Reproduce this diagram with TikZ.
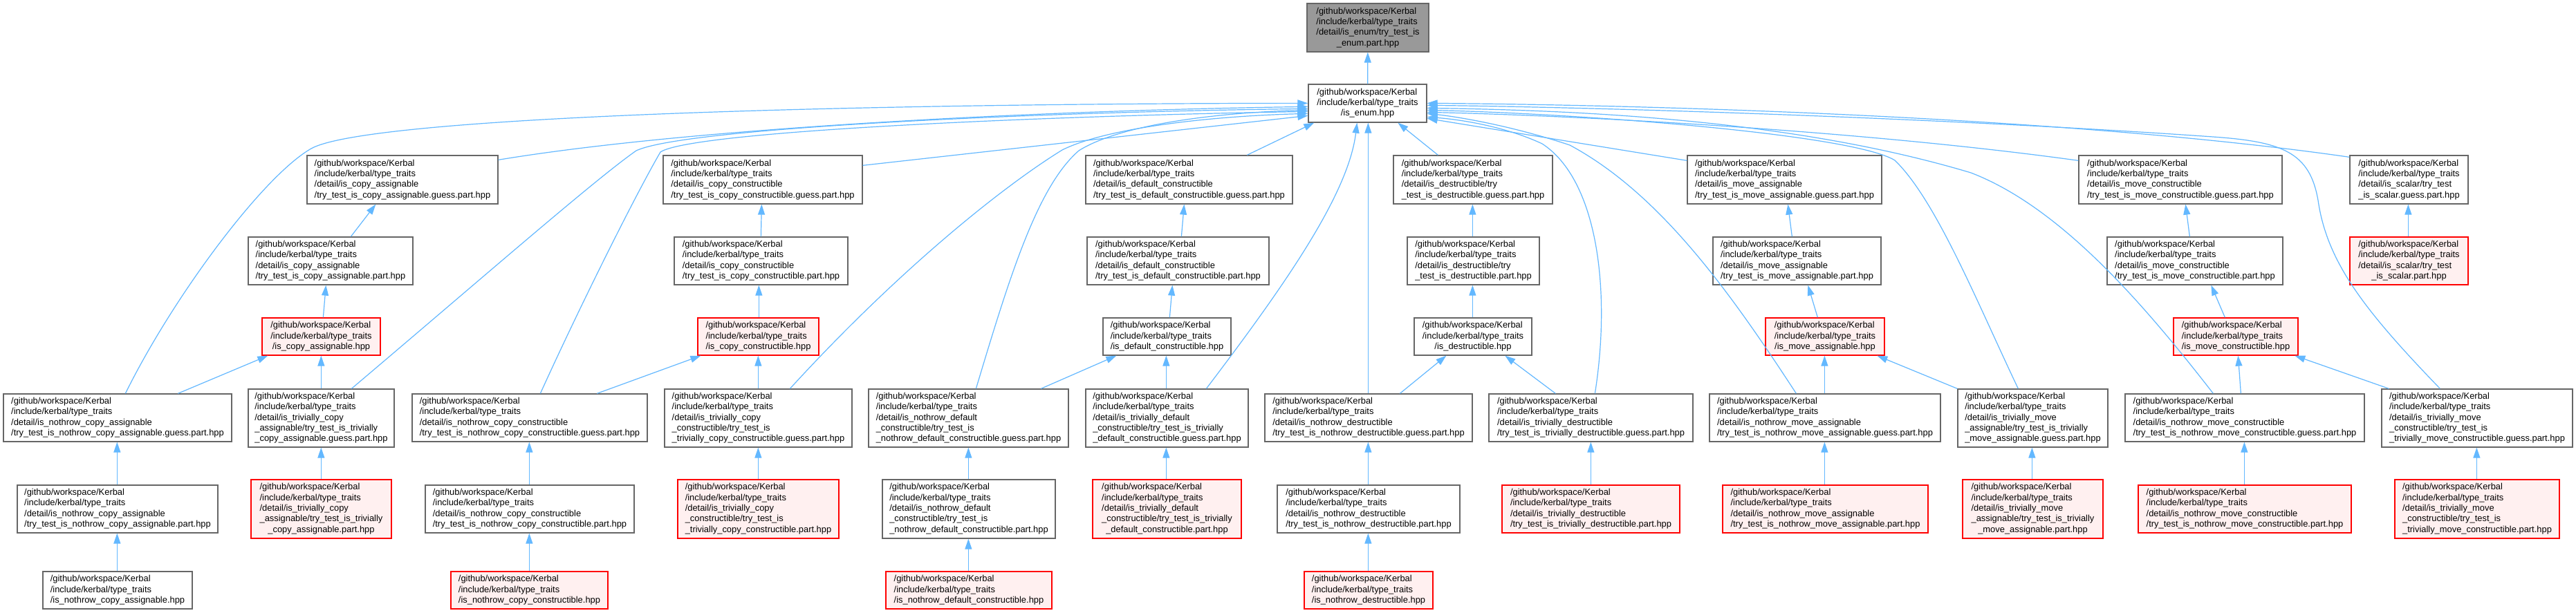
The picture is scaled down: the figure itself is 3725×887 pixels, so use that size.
\documentclass[tikz,border=0pt]{standalone}
\usepackage{fontspec}
\setmainfont{Liberation Sans}
\usetikzlibrary{arrows.meta,calc}
\definecolor{edgec}{HTML}{63B8FF}
\definecolor{gborder}{HTML}{666666}
\definecolor{redfill}{HTML}{FFF0F0}
\definecolor{topfill}{HTML}{999999}
\newcommand{\gpre}{/github/workspace/Kerbal\\/include/kerbal/type\_traits}
\newcommand{\glab}[2]{\begin{tabular}{@{}l@{}}\gpre\\#1\multicolumn{1}{@{}c@{}}{#2}\end{tabular}}
\newcommand{\gbox}[7]{\node[#2, minimum width={(#4-#3)*0.5pt}, minimum height={(#6-#5)*0.5pt}] (#1) at ({(#3+#4)/2},{(#5+#6)/2}) {#7};}
\begin{document}
\begin{tikzpicture}[x=0.5pt,y=-0.5pt,
  box/.style={rectangle, draw=gborder, fill=white, line width=0.65pt, inner sep=0pt, font={\fontsize{6.45}{7.65}\selectfont}},
  redbox/.style={box, draw=red, fill=redfill},
  topbox/.style={box, fill=topfill},
  incl/.style={draw=edgec, line width=0.6pt, -{Triangle[length=7.5pt,width=5pt]}, fill=none}]
\useasboundingbox (0,0) rectangle (3725,887);
\fill[white] (0,0) rectangle (3725,887);
% row 0-1
\gbox{top}{topbox}{1890}{2066}{5}{75}{\glab{/detail/is\_enum/try\_test\_is\\}{\_enum.part.hpp}}
\gbox{enum}{box}{1892}{2063}{122}{177}{\glab{}{/is\_enum.hpp}}
% row 2
\gbox{cag}{box}{444}{720}{225}{295}{\glab{/detail/is\_copy\_assignable\\}{/try\_test\_is\_copy\_assignable.guess.part.hpp}}
\gbox{ccg}{box}{959}{1247}{225}{295}{\glab{/detail/is\_copy\_constructible\\}{/try\_test\_is\_copy\_constructible.guess.part.hpp}}
\gbox{dcg}{box}{1570}{1869}{225}{295}{\glab{/detail/is\_default\_constructible\\}{/try\_test\_is\_default\_constructible.guess.part.hpp}}
\gbox{dg}{box}{2015}{2245}{225}{295}{\glab{/detail/is\_destructible/try\\}{\_test\_is\_destructible.guess.part.hpp}}
\gbox{mag}{box}{2440}{2721}{225}{295}{\glab{/detail/is\_move\_assignable\\}{/try\_test\_is\_move\_assignable.guess.part.hpp}}
\gbox{mcg}{box}{3006}{3300}{225}{295}{\glab{/detail/is\_move\_constructible\\}{/try\_test\_is\_move\_constructible.guess.part.hpp}}
\gbox{sg}{box}{3398}{3569}{225}{295}{\glab{/detail/is\_scalar/try\_test\\}{\_is\_scalar.guess.part.hpp}}
% row 3
\gbox{cap}{box}{359}{597}{343}{412}{\glab{/detail/is\_copy\_assignable\\}{/try\_test\_is\_copy\_assignable.part.hpp}}
\gbox{ccp}{box}{975}{1226}{343}{412}{\glab{/detail/is\_copy\_constructible\\}{/try\_test\_is\_copy\_constructible.part.hpp}}
\gbox{dcp}{box}{1572}{1835}{343}{412}{\glab{/detail/is\_default\_constructible\\}{/try\_test\_is\_default\_constructible.part.hpp}}
\gbox{dp}{box}{2035}{2226}{343}{412}{\glab{/detail/is\_destructible/try\\}{\_test\_is\_destructible.part.hpp}}
\gbox{map}{box}{2477}{2720}{343}{412}{\glab{/detail/is\_move\_assignable\\}{/try\_test\_is\_move\_assignable.part.hpp}}
\gbox{mcp}{box}{3047}{3301}{343}{412}{\glab{/detail/is\_move\_constructible\\}{/try\_test\_is\_move\_constructible.part.hpp}}
\gbox{sp}{redbox}{3398}{3569}{343}{412}{\glab{/detail/is\_scalar/try\_test\\}{\_is\_scalar.part.hpp}}
% row 4
\gbox{cah}{redbox}{379}{550}{460}{514}{\glab{}{/is\_copy\_assignable.hpp}}
\gbox{cch}{redbox}{1009}{1184}{460}{514}{\glab{}{/is\_copy\_constructible.hpp}}
\gbox{dch}{box}{1595}{1780}{460}{514}{\glab{}{/is\_default\_constructible.hpp}}
\gbox{dh}{box}{2045}{2215}{460}{514}{\glab{}{/is\_destructible.hpp}}
\gbox{mah}{redbox}{2553}{2725}{460}{514}{\glab{}{/is\_move\_assignable.hpp}}
\gbox{mch}{redbox}{3143}{3323}{460}{514}{\glab{}{/is\_move\_constructible.hpp}}
% row 5
\gbox{ncag}{box}{5}{335}{570}{639}{\glab{/detail/is\_nothrow\_copy\_assignable\\}{/try\_test\_is\_nothrow\_copy\_assignable.guess.part.hpp}}
\gbox{tcag}{box}{359}{570}{563}{647}{\glab{/detail/is\_trivially\_copy\\\_assignable/try\_test\_is\_trivially\\}{\_copy\_assignable.guess.part.hpp}}
\gbox{nccg}{box}{596}{936}{570}{639}{\glab{/detail/is\_nothrow\_copy\_constructible\\}{/try\_test\_is\_nothrow\_copy\_constructible.guess.part.hpp}}
\gbox{tccg}{box}{961}{1232}{563}{647}{\glab{/detail/is\_trivially\_copy\\\_constructible/try\_test\_is\\}{\_trivially\_copy\_constructible.guess.part.hpp}}
\gbox{ndcg}{box}{1256}{1545}{563}{647}{\glab{/detail/is\_nothrow\_default\\\_constructible/try\_test\_is\\}{\_nothrow\_default\_constructible.guess.part.hpp}}
\gbox{tdcg}{box}{1570}{1805}{563}{647}{\glab{/detail/is\_trivially\_default\\\_constructible/try\_test\_is\_trivially\\}{\_default\_constructible.guess.part.hpp}}
\gbox{ndg}{box}{1829}{2129}{570}{639}{\glab{/detail/is\_nothrow\_destructible\\}{/try\_test\_is\_nothrow\_destructible.guess.part.hpp}}
\gbox{tdg}{box}{2153}{2448}{570}{639}{\glab{/detail/is\_trivially\_destructible\\}{/try\_test\_is\_trivially\_destructible.guess.part.hpp}}
\gbox{nmag}{box}{2472}{2806}{570}{639}{\glab{/detail/is\_nothrow\_move\_assignable\\}{/try\_test\_is\_nothrow\_move\_assignable.guess.part.hpp}}
\gbox{tmag}{box}{2831}{3048}{563}{647}{\glab{/detail/is\_trivially\_move\\\_assignable/try\_test\_is\_trivially\\}{\_move\_assignable.guess.part.hpp}}
\gbox{nmcg}{box}{3073}{3419}{570}{639}{\glab{/detail/is\_nothrow\_move\_constructible\\}{/try\_test\_is\_nothrow\_move\_constructible.guess.part.hpp}}
\gbox{tmcg}{box}{3444}{3720}{563}{647}{\glab{/detail/is\_trivially\_move\\\_constructible/try\_test\_is\\}{\_trivially\_move\_constructible.guess.part.hpp}}
% row 6
\gbox{ncap}{box}{25}{315}{702}{771}{\glab{/detail/is\_nothrow\_copy\_assignable\\}{/try\_test\_is\_nothrow\_copy\_assignable.part.hpp}}
\gbox{tcap}{redbox}{363}{566}{694}{779}{\glab{/detail/is\_trivially\_copy\\\_assignable/try\_test\_is\_trivially\\}{\_copy\_assignable.part.hpp}}
\gbox{nccp}{box}{615}{917}{702}{771}{\glab{/detail/is\_nothrow\_copy\_constructible\\}{/try\_test\_is\_nothrow\_copy\_constructible.part.hpp}}
\gbox{tccp}{redbox}{980}{1213}{694}{779}{\glab{/detail/is\_trivially\_copy\\\_constructible/try\_test\_is\\}{\_trivially\_copy\_constructible.part.hpp}}
\gbox{ndcp}{box}{1276}{1526}{694}{779}{\glab{/detail/is\_nothrow\_default\\\_constructible/try\_test\_is\\}{\_nothrow\_default\_constructible.part.hpp}}
\gbox{tdcp}{redbox}{1580}{1795}{694}{779}{\glab{/detail/is\_trivially\_default\\\_constructible/try\_test\_is\_trivially\\}{\_default\_constructible.part.hpp}}
\gbox{ndp}{box}{1847}{2111}{702}{771}{\glab{/detail/is\_nothrow\_destructible\\}{/try\_test\_is\_nothrow\_destructible.part.hpp}}
\gbox{tdp}{redbox}{2172}{2429}{702}{771}{\glab{/detail/is\_trivially\_destructible\\}{/try\_test\_is\_trivially\_destructible.part.hpp}}
\gbox{nmap}{redbox}{2491}{2788}{702}{771}{\glab{/detail/is\_nothrow\_move\_assignable\\}{/try\_test\_is\_nothrow\_move\_assignable.part.hpp}}
\gbox{tmap}{redbox}{2838}{3041}{694}{779}{\glab{/detail/is\_trivially\_move\\\_assignable/try\_test\_is\_trivially\\}{\_move\_assignable.part.hpp}}
\gbox{nmcp}{redbox}{3092}{3400}{702}{771}{\glab{/detail/is\_nothrow\_move\_constructible\\}{/try\_test\_is\_nothrow\_move\_constructible.part.hpp}}
\gbox{tmcp}{redbox}{3463}{3701}{694}{779}{\glab{/detail/is\_trivially\_move\\\_constructible/try\_test\_is\\}{\_trivially\_move\_constructible.part.hpp}}
% row 7
\gbox{ncah}{box}{62}{278}{827}{881}{\glab{}{/is\_nothrow\_copy\_assignable.hpp}}
\gbox{ncch}{redbox}{652}{879}{827}{881}{\glab{}{/is\_nothrow\_copy\_constructible.hpp}}
\gbox{ndch}{redbox}{1281}{1521}{827}{881}{\glab{}{/is\_nothrow\_default\_constructible.hpp}}
\gbox{ndh}{redbox}{1886}{2072}{827}{881}{\glab{}{/is\_nothrow\_destructible.hpp}}
% chain edges
\draw[incl] (enum) -- (top);
\draw[incl] ($(cap.north west)+(149,0)$) -- ($(cag.south west)+(100,0)$);
\draw[incl] ($(cah.north west)+(89,0)$) -- ($(cap.south west)+(113,0)$);
\draw[incl] ($(ncag.north west)+(253,0)$) -- ($(cah.south west)+(9,0)$);
\draw[incl] ($(tcag.north west)+(106,0)$) -- ($(cah.south west)+(86,0)$);
\draw[incl] ($(ncap.north west)+(145,0)$) -- ($(ncag.south west)+(165,0)$);
\draw[incl] ($(tcap.north west)+(102,0)$) -- ($(tcag.south west)+(106,0)$);
\draw[incl] ($(ncah.north west)+(108,0)$) -- ($(ncap.south west)+(145,0)$);
\draw[incl] ($(nccp.north west)+(151,0)$) -- ($(nccg.south west)+(170,0)$);
\draw[incl] ($(ncch.north west)+(114,0)$) -- ($(nccp.south west)+(151,0)$);
\draw[incl] ($(nccg.north west)+(268,0)$) -- ($(cch.south west)+(5,0)$);
\draw[incl] ($(tccg.north west)+(136,0)$) -- ($(cch.south west)+(88,0)$);
\draw[incl] ($(ccp.north west)+(126,0)$) -- ($(ccg.south west)+(143,0)$);
\draw[incl] ($(cch.north west)+(89,0)$) -- ($(ccp.south west)+(123,0)$);
\draw[incl] ($(dcp.north west)+(137,0)$) -- ($(dcg.south west)+(143,0)$);
\draw[incl] ($(dch.north west)+(97,0)$) -- ($(dcp.south west)+(124,0)$);
\draw[incl] ($(ndcg.north west)+(250,0)$) -- ($(dch.south west)+(20,0)$);
\draw[incl] ($(tdcg.north west)+(117,0)$) -- ($(dch.south west)+(92,0)$);
\draw[incl] ($(tccp.north west)+(117,0)$) -- ($(tccg.south west)+(136,0)$);
\draw[incl] ($(ndcp.north west)+(125,0)$) -- ($(ndcg.south west)+(145,0)$);
\draw[incl] ($(ndch.north west)+(120,0)$) -- ($(ndcp.south west)+(125,0)$);
\draw[incl] ($(tdcp.north west)+(107,0)$) -- ($(tdcg.south west)+(117,0)$);
\draw[incl] ($(dp.north west)+(95,0)$) -- ($(dg.south west)+(115,0)$);
\draw[incl] ($(dh.north west)+(85,0)$) -- ($(dp.south west)+(95,0)$);
\draw[incl] ($(ndg.north west)+(196,0)$) -- ($(dh.south west)+(47,0)$);
\draw[incl] ($(tdg.north west)+(97,0)$) -- ($(dh.south west)+(132,0)$);
\draw[incl] ($(map.north west)+(115,0)$) -- ($(mag.south west)+(146,0)$);
\draw[incl] ($(mah.north west)+(76,0)$) -- ($(map.south west)+(138,0)$);
\draw[incl] ($(nmag.north west)+(167,0)$) -- ($(mah.south west)+(86,0)$);
\draw[incl] (tmag.north west) -- ($(mah.south west)+(162,0)$);
\draw[incl] ($(ndp.north west)+(132,0)$) -- ($(ndg.south west)+(150,0)$);
\draw[incl] ($(ndh.north west)+(93,0)$) -- ($(ndp.south west)+(132,0)$);
\draw[incl] ($(tdp.north west)+(129,0)$) -- ($(tdg.south west)+(148,0)$);
\draw[incl] ($(nmap.north west)+(148,0)$) -- ($(nmag.south west)+(167,0)$);
\draw[incl] ($(mcp.north west)+(120,0)$) -- ($(mcg.south west)+(155,0)$);
\draw[incl] ($(mch.north west)+(75,0)$) -- ($(mcp.south west)+(151,0)$);
\draw[incl] ($(sp.north west)+(85,0)$) -- ($(sg.south west)+(85,0)$);
\draw[incl] ($(nmcg.north west)+(168,0)$) -- ($(mch.south west)+(94,0)$);
\draw[incl] ($(tmcg.north west)+(11,0)$) -- ($(mch.south west)+(176,0)$);
\draw[incl] ($(tmap.north west)+(101,0)$) -- ($(tmag.south west)+(108,0)$);
\draw[incl] ($(nmcp.north west)+(154,0)$) -- ($(nmcg.south west)+(173,0)$);
\draw[incl] ($(tmcp.north west)+(119,0)$) -- ($(tmcg.south west)+(138,0)$);
% edges into is_enum, left
\draw[incl] ($(ncag.north west)+(177,0)$) .. controls (250,430) and (380,255) .. (450,215) .. controls (530,170) and (1200,150) .. ($(enum.north west)+(0,28)$);
\draw[incl] ($(cag.north east)+(0,7)$) .. controls (1000,185) and (1500,160) .. ($(enum.north west)+(0,33)$);
\draw[incl] ($(tcag.north west)+(150,0)$) .. controls (700,400) and (860,260) .. (920,218) .. controls (990,185) and (1500,162) .. ($(enum.north west)+(0,36)$);
\draw[incl] ($(nccg.north west)+(186,0)$) .. controls (840,440) and (920,280) .. (955,220) .. controls (1000,190) and (1500,168) .. ($(enum.north west)+(0,40)$);
\draw[incl] ($(ccg.north east)+(0,15)$) -- ($(enum.north west)+(0,46)$);
\draw[incl] ($(tccg.north west)+(182,0)$) .. controls (1300,390) and (1450,270) .. (1536,217) .. controls (1600,185) and (1750,168) .. ($(enum.north west)+(0,43)$);
\draw[incl] ($(ndcg.north west)+(156,0)$) .. controls (1460,400) and (1500,270) .. (1560,218) .. controls (1620,180) and (1760,163) .. ($(enum.north west)+(0,38)$);
% bottom
\draw[incl] ($(dcg.north west)+(234,0)$) -- ($(enum.south west)+(9,0)$);
\draw[incl] ($(tdcg.north west)+(175,0)$) .. controls (1860,410) and (1950,280) .. ($(enum.south west)+(71,0)$);
\draw[incl] ($(ndg.north west)+(150,0)$) -- ($(enum.south west)+(87,0)$);
\draw[incl] ($(dg.north west)+(65,0)$) -- ($(enum.south west)+(130,0)$);
% right
\draw[incl] ($(tdg.north west)+(154,0)$) .. controls (2330,420) and (2310,260) .. (2230,208) .. controls (2170,180) and (2100,172) .. ($(enum.north east)+(0,48)$);
\draw[incl] ($(nmag.north west)+(126,0)$) .. controls (2500,420) and (2400,280) .. (2270,210) .. controls (2180,180) and (2100,168) .. ($(enum.north east)+(0,43)$);
\draw[incl] ($(mag.north west)+(0,8)$) -- ($(enum.north east)+(0,50)$);
\draw[incl] ($(tmag.north west)+(88,0)$) .. controls (2860,440) and (2800,290) .. (2740,232) .. controls (2680,195) and (2300,165) .. ($(enum.north east)+(0,38)$);
\draw[incl] ($(mcg.north west)+(0,8)$) .. controls (2700,190) and (2300,168) .. ($(enum.north east)+(0,41)$);
\draw[incl] ($(nmcg.north west)+(128,0)$) .. controls (3100,440) and (2980,300) .. (2850,250) .. controls (2600,175) and (2300,160) .. ($(enum.north east)+(0,35)$);
\draw[incl] ($(tmcg.north west)+(85,0)$) .. controls (3420,450) and (3365,380) .. (3352,290) .. controls (3340,220) and (3300,205) .. (3200,198) .. controls (2800,170) and (2300,155) .. ($(enum.north east)+(0,31)$);
\draw[incl] ($(sg.north west)+(0,3)$) .. controls (3000,170) and (2400,152) .. ($(enum.north east)+(0,28)$);
\end{tikzpicture}
\end{document}
